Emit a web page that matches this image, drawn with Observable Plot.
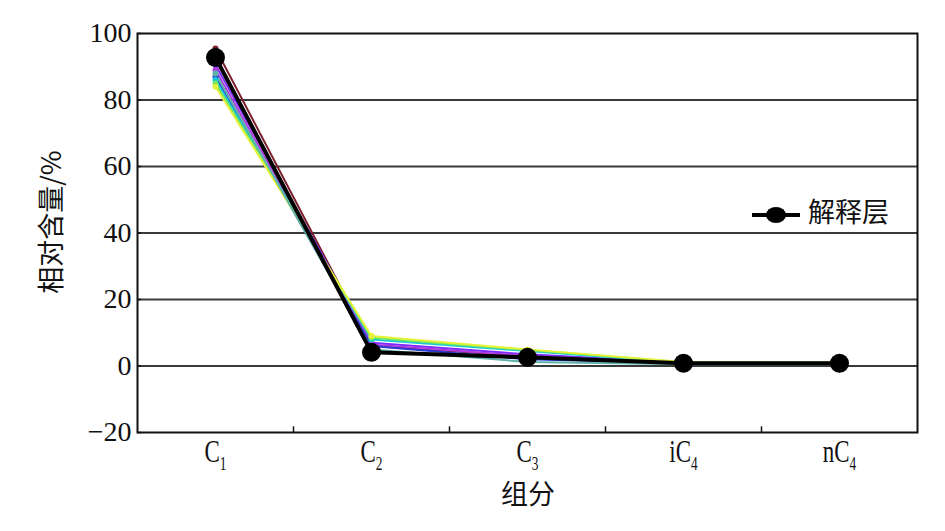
<!DOCTYPE html>
<html>
<head>
<meta charset="utf-8">
<script src="https://cdn.jsdelivr.net/npm/d3@7"></script>
<script src="https://cdn.jsdelivr.net/npm/@observablehq/plot@0.6"></script>
<style>
  html, body { margin: 0; padding: 0; background: #fff; }
  #chart { width: 945px; height: 531px; }
</style>
</head>
<body>
<div id="chart"></div>
<script>
// Categories (main symbol + subscript)
const categories = ["C1", "C2", "C3", "iC4", "nC4"];
const categoryMain = ["C", "C", "C", "iC", "nC"];
const categorySub = ["1", "2", "3", "4", "4"];

// Interpreted layer (black, legend entry)
const layerName = "解释层";
const layerValues = [92.8, 4.1, 2.6, 0.8, 0.8];

// Background reference samples (coloured lines)
const sampleColors = ["#7a1f2b", "#7b2cff", "#b03adf", "#2a3bd8", "#18c8d8", "#6ee860", "#e6f23a", "#5fb3a8"];
const sampleC1 = [95.5, 90.5, 89.0, 87.0, 86.0, 85.0, 84.0, 88.0];
const sampleC2 = [6.0, 7.0, 6.5, 6.0, 8.0, 8.5, 9.0, 5.0];
const sampleC3 = [3.0, 3.5, 3.0, 2.0, 4.5, 4.8, 5.0, 1.2];
const sampleIC4 = [1.0, 1.0, 0.9, 0.8, 1.0, 1.1, 1.2, 0.5];
const sampleNC4 = [1.0, 1.0, 0.9, 0.8, 1.0, 1.0, 1.1, 0.5];

const yTicks = [-20, 0, 20, 40, 60, 80, 100];
const gridValues = [0, 20, 40, 60, 80];

const samples = [];
sampleColors.forEach((c, s) => {
  const vals = [sampleC1[s], sampleC2[s], sampleC3[s], sampleIC4[s], sampleNC4[s]];
  vals.forEach((v, i) => samples.push({ s, color: c, x: i + 1, y: v }));
});
const layer = layerValues.map((v, i) => ({ x: i + 1, y: v }));
const innerXTicks = [1.5, 2.5, 3.5, 4.5];

const plot = Plot.plot({
  width: 945,
  height: 531,
  marginLeft: 137,
  marginRight: 28,
  marginTop: 33,
  marginBottom: 99,
  style: { fontFamily: "'Liberation Serif', serif", fontSize: "28px", color: "#111", background: "#fff" },
  x: { domain: [0.5, 5.5], axis: null },
  y: { domain: [-20, 100], axis: null },
  marks: [
    Plot.ruleY(gridValues, { stroke: "#3a3a3a", strokeWidth: 1.8 }),
    Plot.line(samples, { x: "x", y: "y", z: "s", stroke: "color", strokeWidth: 2 }),
    Plot.dot(samples, { x: "x", y: "y", fill: "color", r: 3 }),
    Plot.line(layer, { x: "x", y: "y", stroke: "#000", strokeWidth: 4 }),
    Plot.dot(layer, { x: "x", y: "y", fill: "#000", r: 9.5 }),
    Plot.frame({ stroke: "#111", strokeWidth: 2 }),
    Plot.axisY(yTicks, { anchor: "left", tickSize: -4, tickPadding: 10, stroke: "#111", strokeWidth: 1.5, label: null }),
    Plot.ruleX(innerXTicks, { x: d => d, y1: -20, y2: -18.3, stroke: "#111", strokeWidth: 1.5 }),
    Plot.axisX([1, 2, 3, 4, 5], { anchor: "bottom", tickSize: 0, tickPadding: 7, label: null, tickFormat: d => categoryMain[d - 1] + "|" + categorySub[d - 1] })
  ]
});

const svg = d3.select(plot);
svg.selectAll("g[aria-label='y-axis tick label']").attr("font-size", 28);
svg.selectAll("g[aria-label='x-axis tick label']").attr("font-size", 31);

// Approximate advance widths (em) of Liberation Serif glyphs used in labels
const advance = { C: 0.667, i: 0.278, n: 0.5 };

// Turn x tick labels into condensed main text + subscript
svg.selectAll("text").each(function () {
  const t = this.textContent;
  if (t.includes("|")) {
    const [main, sub] = t.split("|");
    const sel = d3.select(this);
    sel.text(null);
    sel.append("tspan").attr("font-size", "31px").text(main);
    sel.append("tspan").attr("dy", "8").attr("font-size", "18px").text(sub);
    const natural = [...main].reduce((a, ch) => a + (advance[ch] || 0.5) * 31, 0) + 0.5 * 18;
    sel.attr("textLength", (natural * 0.74).toFixed(1)).attr("lengthAdjust", "spacingAndGlyphs");
  }
});

// Axis titles
svg.append("text")
  .attr("transform", "translate(54,222) rotate(-90)")
  .attr("text-anchor", "middle")
  .attr("dominant-baseline", "middle")
  .attr("font-family", "'Noto Sans CJK SC', sans-serif")
  .attr("font-size", 27)
  .attr("fill", "#111")
  .text("相对含量/%");
svg.append("text")
  .attr("x", 528).attr("y", 497)
  .attr("text-anchor", "middle")
  .attr("dominant-baseline", "middle")
  .attr("font-family", "'Noto Sans CJK SC', sans-serif")
  .attr("font-size", 27)
  .attr("fill", "#111")
  .text("组分");

// Legend
const lg = svg.append("g").attr("transform", "translate(752,215)");
lg.append("line").attr("x1", 0).attr("x2", 48).attr("y1", 0).attr("y2", 0).attr("stroke", "#000").attr("stroke-width", 4);
lg.append("ellipse").attr("cx", 24).attr("cy", 0).attr("rx", 10).attr("ry", 8).attr("fill", "#000");
lg.append("text").attr("x", 56).attr("y", 0)
  .attr("text-anchor", "start")
  .attr("dominant-baseline", "middle")
  .attr("font-family", "'Noto Sans CJK SC', sans-serif").attr("font-size", 27).attr("fill", "#111").text(layerName);

document.getElementById("chart").appendChild(plot);
</script>
</body>
</html>
